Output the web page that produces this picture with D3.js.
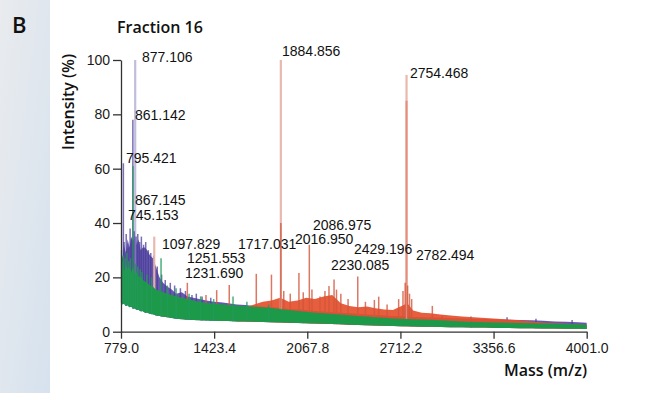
<!DOCTYPE html>
<html><head><meta charset="utf-8">
<script src="https://cdn.jsdelivr.net/npm/d3@7"></script>
<style>
html,body{margin:0;padding:0;background:#fff;}
svg{display:block;}
</style></head><body>
<svg id="chart" width="672" height="393"></svg>
<script>
// ---------- DATA ----------
const panelLabel = "B";
const chartTitle = "Fraction 16";
const xTitle = "Mass (m/z)";
const yTitle = "Intensity (%)";
const xTicks = [779.0, 1423.4, 2067.8, 2712.2, 3356.6, 4001.0];
const yTicks = [0, 20, 40, 60, 80, 100];

// envelope sampling grid (m/z)
const envMz = [779,790,800,812,825,838,850,862,875,888,
  900,915,930,945,960,980,1000,1020,1045,1070,
  1100,1130,1160,1200,1240,1280,1320,1370,1420,1470,
  1520,1580,1640,1700,1760,1820,1880,1940,2000,2060,
  2120,2180,2240,2300,2360,2420,2480,2540,2600,2660,
  2720,2760,2800,2860,2920,2990,3060,3140,3220,3300,
  3380,3460,3540,3620,3700,3780,3860,3940,4001];
const blueTop = [30,27,32,29,34,31,35,33,36,32,
  34,30,31,31,30,28,27,24,20,18,
  16.5,15.5,14,14.5,13,12.5,12,11.5,11,10.8,
  10.5,10,9.8,9.5,9.2,9,8.8,8.4,8.2,8,
  7.6,7.4,7.2,7,6.8,6.6,6.3,6.2,6,5.8,
  5.7,5.6,5.4,5.3,5.2,5.1,5.0,4.9,4.8,4.7,
  4.6,4.4,4.3,4.2,4.0,3.8,3.7,3.5,3.3];
const greenTop = [24,26,22,25,23,24,22,24,21,22,
  20,20.5,19,18.5,18,17,16.5,15.5,15,14.5,
  14,13.5,13,12.5,12,11.5,11,10.6,10.4,10.1,
  9.8,9.6,9.4,9.2,9.0,8.7,8.4,8,7.6,7.3,
  7,6.8,6.5,6.3,6.1,5.8,5.6,5.3,5.1,4.9,
  4.8,4.7,4.6,4.5,4.4,4.2,4.0,3.8,3.6,3.5,
  3.4,3.3,3.2,3.1,3.0,2.9,2.8,2.7,2.6];
const greenBot = [11,10,10.5,9.5,9.8,9,9.2,8.5,8.6,8,
  8.2,7.5,7.6,7,7.1,6.5,6.4,6,5.8,5.5,
  5.3,5.0,4.8,4.6,4.4,4.3,4.2,4.1,4.0,3.9,
  3.9,3.8,3.8,3.7,3.6,3.5,3.4,3.3,3.2,3.1,
  3.0,2.9,2.8,2.7,2.6,2.5,2.4,2.3,2.2,2.1,
  2.0,2.0,1.9,1.8,1.8,1.7,1.6,1.6,1.5,1.5,
  1.4,1.4,1.3,1.3,1.2,1.2,1.1,1.1,1.0];
const redTop = [0,0,0,0,0,0,0,0,0,0,
  0,0,0,0,0,0,0,0,0,0,
  0,0,0,0,0,0,0,0,0,0,
  0,6,9,10,11,11.5,12.5,11,11.5,12.5,
  12,13,13.5,10.5,9.5,9,9.3,8.6,8.2,8,
  9.5,10.5,7.8,7,6.8,6.3,6,5.6,5.3,5.0,
  4.8,4.5,4.2,3.8,3.4,3.1,2.9,2.7,2.5];

// peak sticks (m/z, intensity %)
const blueStickMz = [785,795.4,800,815,828,842,852,861.1,870,883,895,908,920,935,950,968,985,1005,1030,1060,1085,1120,1150,1190,1225,1270,1300,1340,1400,3000,3200,3450,3650,3900];
const blueStickInt = [27,62,33,36,31,38,34,78,37,35,36,33,35,32,33,30,29,28,24,21,19,18,17,16,15,13.5,14,13,12.5,6,5.6,5.3,4.8,4.3];
const blueTallMz = [877.1];
const blueTallInt = [100];
const greenStickMz = [783,795,808,820,833,845,862,880,895,912,925,958,990,1056,1100,1160,1250,1330,1420,1554,1650,1800];
const greenStickInt = [30,28,27,29,26,27,61,25,24,23,22,21,20,27,17,16,14,13,12,13,11,10];
const redStickMz = [1238,1367,1441,1528,1715,1820,1884.9,1905,1950,2010,2040,2082,2100,2156,2190,2218,2253,2270,2300,2350,2417,2470,2532,2562,2620,2700,2730,2745,2762,2775,2790,2933];
const redStickInt = [18,13.5,15.3,17.2,21.3,21,40,15,14,21.6,14.5,32,15.5,13,15,16.8,19.2,15.5,14,12,20.3,11,11.7,12.9,10,12,15,18,17,14,12,9.5];
const redMidMz = [2754.5];
const redMidInt = [85];
const redTallMz = [1009,1884.9,2754.5];
const redTallInt = [35,100,94.5];

// peak annotations: text, label anchor m/z (left edge), label baseline intensity
const labelText = ["877.106","861.142","795.421","867.145","745.153","1097.829","1251.553","1231.690","1717.031","1884.856","2754.468","2086.975","2016.950","2429.196","2230.085","2782.494"];
const labelMz = [924,876,813,876,827,1062,1235,1222,1588,1893,2778,2107,1983,2391,2232,2820];
const labelInt = [99.3,77.9,62.1,46.8,41.1,30.4,25.2,19.8,30.4,101.5,93.3,37.4,32.3,28.6,22.6,26.3];

// ---------- DRAW ----------
const svg = d3.select("#chart");
const W = 672, H = 393;
const x = d3.scaleLinear().domain([779, 4001]).range([121, 586.7]);
const y = d3.scaleLinear().domain([0, 100]).range([331.7, 60]);
const baseAt = d3.scaleLinear().domain(envMz).range(greenBot).clamp(true);

const defs = svg.append("defs");
const grad = defs.append("linearGradient").attr("id","strip").attr("x1","0").attr("y1","0").attr("x2","1").attr("y2","1");
grad.append("stop").attr("offset","0").attr("stop-color","#e9ebee");
grad.append("stop").attr("offset","1").attr("stop-color","#d6e2ee");
const blur = defs.append("filter").attr("id","soft").attr("x","-5%").attr("y","-5%").attr("width","110%").attr("height","110%");
blur.append("feGaussianBlur").attr("stdDeviation","0.55");

svg.append("rect").attr("x",0).attr("y",0).attr("width",W).attr("height",H).attr("fill","#fff");
svg.append("rect").attr("x",0).attr("y",0).attr("width",50).attr("height",H).attr("fill","url(#strip)");

svg.append("text").attr("x",12).attr("y",33).text(panelLabel)
  .attr("font-family","'Open Sans', sans-serif").attr("font-weight",600).attr("font-size",22).attr("fill","#111");
svg.append("text").attr("x",117).attr("y",33).text(chartTitle)
  .attr("font-family","'Open Sans', sans-serif").attr("font-weight",600).attr("font-size",16).attr("fill","#111");

const idx = d3.range(envMz.length);
const spec = svg.append("g").attr("filter","url(#soft)");

function sticks(g, mz, val, color, width, op) {
  g.selectAll(null).data(d3.range(mz.length)).join("line")
    .attr("x1", i => x(mz[i])).attr("x2", i => x(mz[i]))
    .attr("y1", i => y(baseAt(mz[i]))).attr("y2", i => y(val[i]))
    .attr("stroke", color).attr("stroke-width", width).attr("stroke-opacity", op);
}

// blue series
spec.append("path").datum(idx)
  .attr("d", d3.area().x(i => x(envMz[i])).y0(i => y(greenBot[i])).y1(i => y(blueTop[i])))
  .attr("fill", "#5646a4").attr("fill-opacity", 0.9);
sticks(spec, blueTallMz, blueTallInt, "#bdbbdc", 2.2, 0.95);
sticks(spec, blueStickMz, blueStickInt, "#4a3d9a", 1.5, 0.75);

// red series
spec.append("path").datum(idx)
  .attr("d", d3.area().defined(i => redTop[i] > 0).x(i => x(envMz[i])).y0(i => y(greenBot[i])).y1(i => y(redTop[i])))
  .attr("fill", "#e4502b").attr("fill-opacity", 0.92);
sticks(spec, redTallMz, redTallInt, "#e8b4aa", 2.2, 0.95);
sticks(spec, redMidMz, redMidInt, "#e58a76", 2, 0.9);
sticks(spec, redStickMz, redStickInt, "#d2553c", 1.5, 0.8);

// green series
spec.append("path").datum(idx)
  .attr("d", d3.area().x(i => x(envMz[i])).y0(i => y(greenBot[i])).y1(i => y(greenTop[i])))
  .attr("fill", "#1e9a4a");
sticks(spec, greenStickMz, greenStickInt, "#23985a", 1.5, 0.8);

// axes
const tickFont = "'Liberation Sans', Arial, sans-serif";
const ax = svg.append("g").attr("transform", `translate(0,${y(0)})`)
  .call(d3.axisBottom(x).tickValues(xTicks).tickFormat(d3.format(".1f")).tickSizeInner(7).tickSizeOuter(0).tickPadding(4));
const ay = svg.append("g").attr("transform", `translate(${x(779)},0)`)
  .call(d3.axisLeft(y).tickValues(yTicks).tickSizeInner(8).tickSizeOuter(0).tickPadding(3));
[ax, ay].forEach(a => {
  a.select(".domain").attr("stroke", "#333").attr("stroke-width", 1.3);
  a.selectAll(".tick line").attr("stroke", "#333").attr("stroke-width", 1.3);
  a.selectAll(".tick text").attr("font-family", tickFont).attr("font-size", 14).attr("fill", "#1a1a1a");
});

// titles
svg.append("text").attr("x", 587).attr("y", 376).attr("text-anchor","end").text(xTitle)
  .attr("font-family","'Open Sans', sans-serif").attr("font-weight",600).attr("font-size",16).attr("fill","#111");
svg.append("text").attr("transform","translate(74,102) rotate(-90)").attr("text-anchor","middle").text(yTitle)
  .attr("font-family","'Open Sans', sans-serif").attr("font-weight",600).attr("font-size",16).attr("fill","#111");

// peak labels
svg.append("g").selectAll("text").data(d3.range(labelText.length)).join("text")
  .attr("x", i => x(labelMz[i])).attr("y", i => y(labelInt[i]))
  .text(i => labelText[i])
  .attr("font-family", tickFont).attr("font-size", 14).attr("fill", "#111");
</script>
</body></html>
